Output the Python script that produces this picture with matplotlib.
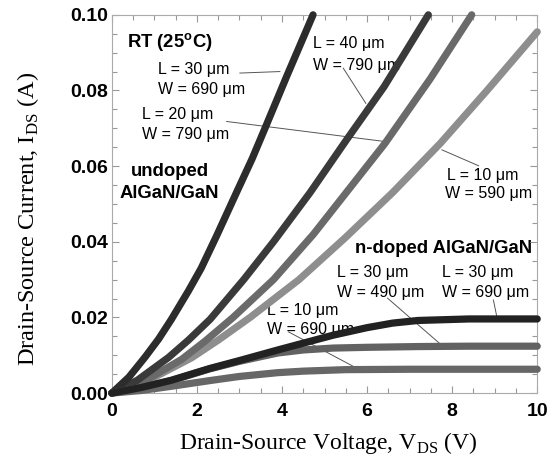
import numpy as np
import matplotlib
matplotlib.use("Agg")
import matplotlib.pyplot as plt
from matplotlib.ticker import MultipleLocator, FormatStrFormatter

plt.rcParams['font.family'] = 'Liberation Sans'
plt.rcParams['mathtext.fontset'] = 'custom'
plt.rcParams['mathtext.rm'] = 'Liberation Serif'
plt.rcParams['mathtext.bf'] = 'Liberation Sans:bold'

# undoped AlGaN/GaN  (V_DS in V, I_DS in A)
v_u30_690 = [0, 0.4, 0.78, 1.1, 1.4, 1.8, 2.1, 2.46, 2.97, 3.3, 3.6, 4.12, 4.73]
i_u30_690 = [0, 0.0042, 0.0095, 0.0143, 0.0195, 0.027, 0.033, 0.0415, 0.054, 0.062, 0.070, 0.084, 0.100]
v_u40_790 = [0, 0.6, 1.33, 1.8, 2.31, 3.1, 3.8, 4.66, 5.52, 6.4, 7.44]
i_u40_790 = [0, 0.0034, 0.0094, 0.014, 0.0195, 0.030, 0.040, 0.053, 0.067, 0.081, 0.100]
v_u20_790 = [0, 0.8, 1.64, 2.2, 2.85, 3.8, 4.74, 5.72, 6.42, 7.48, 8.46]
i_u20_790 = [0, 0.0034, 0.0089, 0.0138, 0.020, 0.030, 0.042, 0.056, 0.066, 0.083, 0.100]
v_u10_590 = [0, 0.9, 1.87, 2.5, 3.25, 4.4, 5.48, 6.6, 7.72, 8.82, 10]
i_u10_590 = [0, 0.0036, 0.0093, 0.014, 0.020, 0.030, 0.041, 0.053, 0.066, 0.080, 0.0955]

# n-doped AlGaN/GaN
v_n30_690 = [0, 0.7, 1.4, 2.3, 3.0, 3.9, 4.5, 5.2, 6.0, 6.6, 7.2, 8.4, 10]
i_n30_690 = [0, 0.0015, 0.0034, 0.0065, 0.0086, 0.0114, 0.0132, 0.0153, 0.0173, 0.0185, 0.0192, 0.0196, 0.0196]
v_n30_490 = [0, 0.7, 1.4, 2.3, 3.0, 3.9, 4.5, 5.2, 6.0, 7.2, 8.4, 10]
i_n30_490 = [0, 0.0015, 0.0033, 0.0064, 0.0084, 0.0106, 0.0114, 0.0119, 0.0121, 0.0123, 0.0124, 0.0124]
v_n10_690 = [0, 0.7, 1.4, 2.3, 3.0, 3.9, 4.5, 5.5, 7.0, 8.5, 10]
i_n10_690 = [0, 0.0007, 0.0018, 0.0033, 0.0044, 0.0054, 0.0058, 0.0062, 0.0063, 0.0063, 0.0063]

fig = plt.figure(figsize=(5.51, 4.63), dpi=100)
ax = fig.add_axes([0.203, 0.151, 0.772, 0.817])

lw = 5.2
curves = [
    (v_u10_590, i_u10_590, '#8e8e8e'),
    (v_u20_790, i_u20_790, '#6a6a6a'),
    (v_u40_790, i_u40_790, '#3a3a3a'),
    (v_u30_690, i_u30_690, '#2c2c2c'),
    (v_n10_690, i_n10_690, '#676767'),
    (v_n30_490, i_n30_490, '#626262'),
    (v_n30_690, i_n30_690, '#222222'),
]
for v, i, c in curves:
    ax.plot(v, i, color=c, lw=lw, solid_capstyle='round', solid_joinstyle='round',
            clip_on=False, zorder=3)

# device labels (text, x, baseline y)
labels = [
    ("L = 30 μm", 1.09, 0.0844), ("W = 690 μm", 1.09, 0.0791),
    ("L = 40 μm", 4.74, 0.0912), ("W = 790 μm", 4.74, 0.0854),
    ("L = 20 μm", 0.72, 0.0724), ("W = 790 μm", 0.72, 0.0671),
    ("L = 10 μm", 7.87, 0.0563), ("W = 590 μm", 7.84, 0.0515),
    ("L = 30 μm", 5.30, 0.0306), ("W = 490 μm", 5.30, 0.0253),
    ("L = 30 μm", 7.76, 0.0306), ("W = 690 μm", 7.76, 0.0253),
    ("L = 10 μm", 3.64, 0.0206), ("W = 690 μm", 3.64, 0.0156),
]
for t, x, y in labels:
    ax.text(x, y, t, fontsize=11.5, va='baseline', ha='left', zorder=1)

bold_labels = [
    ("RT (25$^{\\mathbf{o}}$C)", 0.35, 0.0916),
    ("undoped", 0.44, 0.0574),
    ("AlGaN/GaN", 0.17, 0.0515),
    ("n-doped AlGaN/GaN", 5.72, 0.0370),
]
for t, x, y in bold_labels:
    ax.text(x, y, t, fontsize=13.3, fontweight='bold', va='baseline', ha='left', zorder=1)

# leader lines
leaders = [
    ([3.01, 3.95], [0.0846, 0.0850]),
    ([5.44, 5.97], [0.0859, 0.0766]),
    ([2.70, 6.42], [0.0718, 0.0665]),
    ([7.76, 8.62], [0.0643, 0.0601]),
    ([4.15, 5.87], [0.0162, 0.0059]),
    ([6.48, 7.80], [0.0251, 0.0122]),
    ([8.97, 9.05], [0.0246, 0.0202]),
]
for xs, ys in leaders:
    ax.plot(xs, ys, color='#555555', lw=0.7, zorder=2)

ax.set_xlim(0, 10)
ax.set_ylim(0, 0.10)
ax.xaxis.set_major_locator(MultipleLocator(2))
ax.xaxis.set_minor_locator(MultipleLocator(0.5))
ax.yaxis.set_major_locator(MultipleLocator(0.02))
ax.yaxis.set_minor_locator(MultipleLocator(0.005))
ax.yaxis.set_major_formatter(FormatStrFormatter('%.2f'))

ax.tick_params(which='both', direction='in', top=True, right=True, color='#999999')
ax.tick_params(which='major', length=5, width=0.8, labelsize=14)
ax.tick_params(which='minor', length=3.5, width=0.8)
ax.tick_params(axis='x', which='major', pad=7)
ax.tick_params(axis='y', which='major', pad=3)
for lab in ax.get_xticklabels() + ax.get_yticklabels():
    lab.set_fontweight('bold')
for s in ax.spines.values():
    s.set_color('#aaaaaa')
    s.set_linewidth(0.8)

ax.set_xlabel("Drain-Source Voltage, V$_{\\mathrm{DS}}$ (V)", family='Liberation Serif',
              fontsize=17, labelpad=7, x=0.51)
ax.set_ylabel("Drain-Source Current, I$_{\\mathrm{DS}}$ (A)", family='Liberation Serif',
              fontsize=17.5, labelpad=21, y=0.46)

fig.savefig("out.png", dpi=100)
